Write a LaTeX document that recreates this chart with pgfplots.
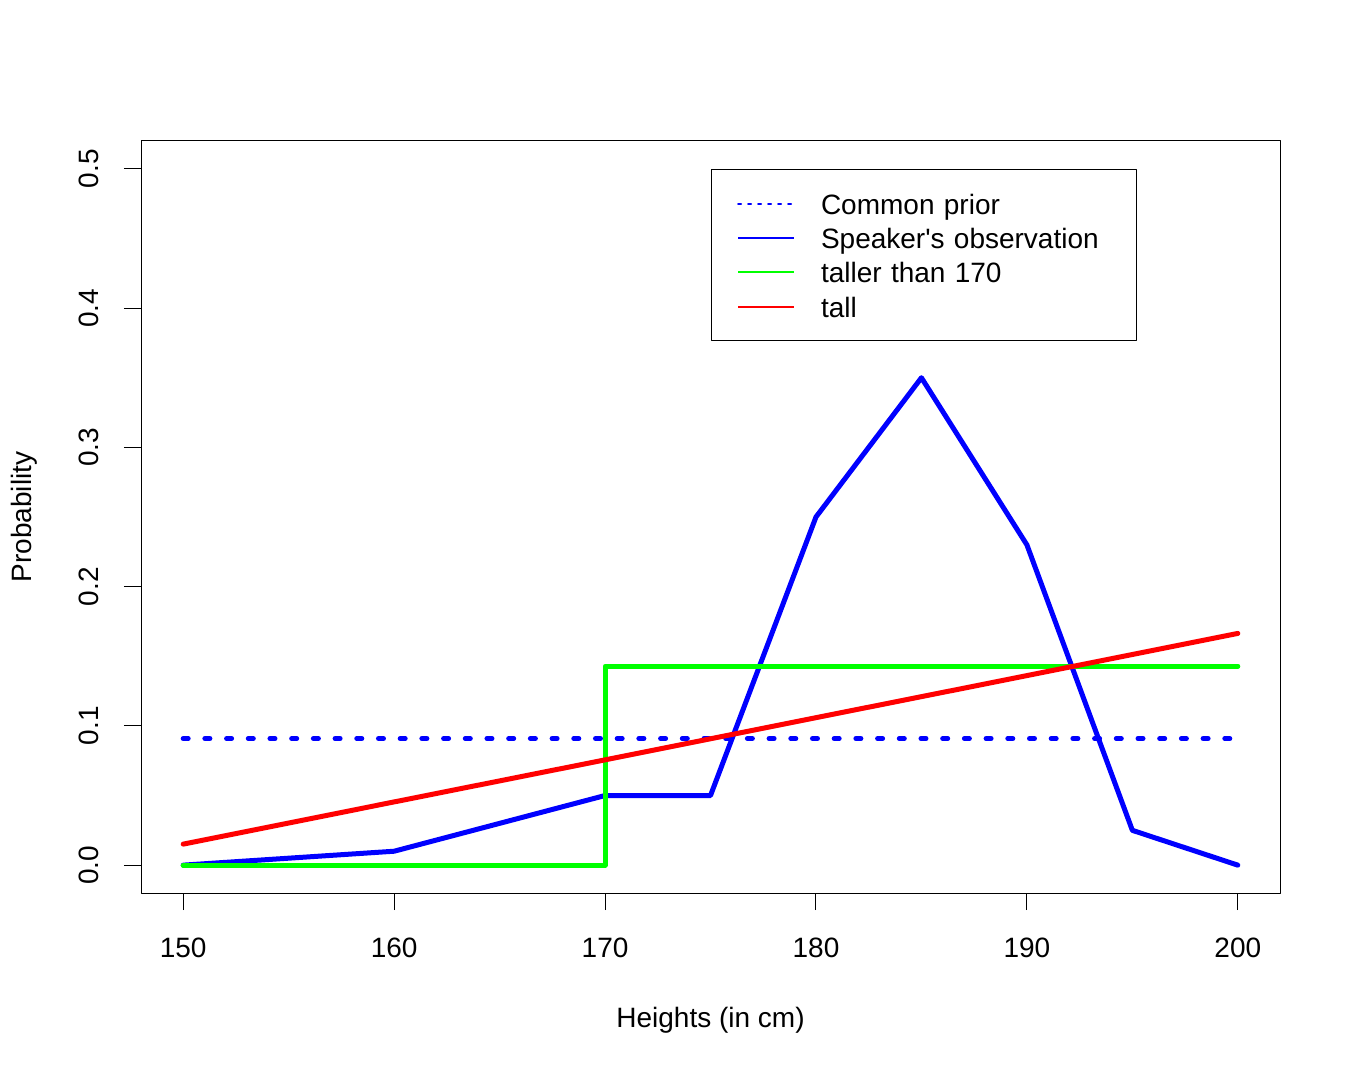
\documentclass[border=0pt]{standalone}
\usepackage{fontspec}
\setmainfont{Liberation Sans}
\usepackage{pgfplots}
\pgfplotsset{compat=1.18}
\definecolor{rblue}{HTML}{0000FF}
\definecolor{rgreen}{HTML}{00FF00}
\definecolor{rred}{HTML}{FF0000}
\begin{document}
\begin{tikzpicture}[font=\fontsize{14}{17}\selectfont]
\useasboundingbox (0,0) rectangle (676.5pt,535pt);
\begin{axis}[
  at={(70.5pt,88.5pt)}, anchor=south west,
  scale only axis, width=569.5pt, height=376pt,
  xmin=148, xmax=202, ymin=-0.02, ymax=0.52,
  axis line style={line width=0.5pt},
  every tick/.style={black, line width=0.5pt},
  tick align=outside, major tick length=8.5pt,
  xtick pos=bottom, ytick pos=left,
  xtick={150,160,170,180,190,200},
  xticklabels={150,160,170,180,190,200},
  ytick={0,0.1,0.2,0.3,0.4,0.5},
  yticklabels={0.0,0.1,0.2,0.3,0.4,0.5},
  xticklabel style={anchor=base, yshift=-23.5pt, inner sep=0pt},
  yticklabel style={xshift=-12.5pt, rotate=90, anchor=base, inner sep=0pt},
  every axis x label/.style={at={(axis description cs:0.5,0)}, yshift=-67pt, anchor=base},
  every axis y label/.style={at={(axis description cs:0,0.5)}, xshift=-54.5pt, rotate=90, anchor=base},
  xlabel={Heights (in cm)},
  ylabel={Probability},
  legend cell align=left,
  legend image code/.code={\draw[#1] (0pt,0pt) -- (28pt,0pt);},
  legend style={at={(axis cs:175,0.5)}, anchor=north west, draw=black, line width=0.5pt,
    inner xsep=13pt, inner ysep=11.85pt, row sep=6.67pt,
    nodes={inner sep=0pt, text height=10.5pt, text depth=0pt, text width=144.5pt, align=left},
    /tikz/every odd column/.append style={column sep=13pt}},
  line join=round,
]
\addplot[rblue, line width=2.5pt, dash pattern=on 2.5pt off 8.35pt, line cap=round, forget plot]
  coordinates {(150,0.0909) (200,0.0909)};
\addplot[rblue, line width=2.5pt, line cap=round, forget plot]
  coordinates {(150,0) (160,0.01) (170,0.05) (175,0.05) (180,0.25) (185,0.35) (190,0.23) (195,0.025) (200,0)};
\addplot[rgreen, line width=2.5pt, line cap=round, forget plot]
  coordinates {(150,0) (170,0) (170,0.1429) (200,0.1429)};
\addplot[rred, line width=2.5pt, line cap=round, forget plot]
  coordinates {(150,0.0151) (160,0.0454) (170,0.0756) (180,0.1059) (190,0.1361) (200,0.1664)};
\addlegendimage{rblue, line width=1pt, dash pattern=on 1.5pt off 3.5pt, line cap=round}
\addlegendentry{Common prior}
\addlegendimage{rblue, line width=1pt}
\addlegendentry{Speaker\textquotesingle s observation}
\addlegendimage{rgreen, line width=1pt}
\addlegendentry{taller than 170}
\addlegendimage{rred, line width=1pt}
\addlegendentry{tall}
\end{axis}
\end{tikzpicture}
\end{document}
